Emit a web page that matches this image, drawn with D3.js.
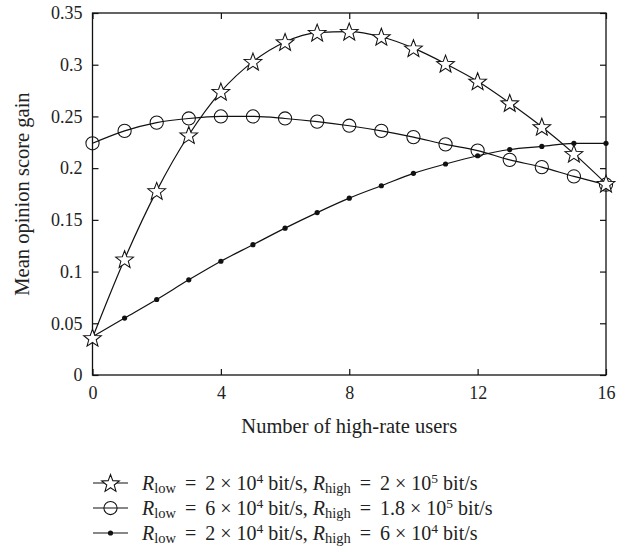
<!DOCTYPE html>
<html>
<head>
<meta charset="utf-8">
<script src="https://cdn.jsdelivr.net/npm/d3@7"></script>
<style>
  body { margin: 0; background: #fff; }
  svg { display: block; }
  text { font-family: "Liberation Serif", "Times New Roman", serif; fill: #222; }
</style>
</head>
<body>
<svg id="chart" width="632" height="552"></svg>
<script>
const users = [0,1,2,3,4,5,6,7,8,9,10,11,12,13,14,15,16];
const starSeries = [0.036,0.112,0.178,0.232,0.274,0.303,0.322,0.331,0.332,0.327,0.316,0.301,0.284,0.263,0.240,0.214,0.185];
const circleSeries = [0.224,0.236,0.244,0.248,0.250,0.250,0.248,0.245,0.241,0.236,0.230,0.223,0.217,0.208,0.201,0.192,0.184];
const dotSeries = [0.037,0.055,0.073,0.092,0.110,0.126,0.142,0.157,0.171,0.183,0.195,0.204,0.212,0.218,0.221,0.224,0.224];
const xTicks = [0,4,8,12,16];
const yTicks = [0,0.05,0.1,0.15,0.2,0.25,0.3,0.35];
const yTickLabels = ["0","0.05","0.1","0.15","0.2","0.25","0.3","0.35"];
const legendItems = [
  {marker:"star", low:"2", lowExp:"4", high:"2", highExp:"5"},
  {marker:"circle", low:"6", lowExp:"4", high:"1.8", highExp:"5"},
  {marker:"dot", low:"2", lowExp:"4", high:"6", highExp:"4"}
];

const svg = d3.select("#chart");
const L = 92.5, R = 606, T = 13, B = 375;
const x = d3.scaleLinear().domain([0,16]).range([L,R]);
const y = d3.scaleLinear().domain([0,0.35]).range([B,T]);
const ink = "#111";
const tickFont = 18, titleFont = 20.5, legFont = 20;

// frame
svg.append("rect").attr("x",L).attr("y",T).attr("width",R-L).attr("height",B-T)
  .attr("fill","none").attr("stroke",ink).attr("stroke-width",1.3);

// axes with inward ticks
const xAxis = svg.append("g").attr("transform",`translate(0,${B})`)
  .call(d3.axisBottom(x).tickValues(xTicks).tickSizeInner(-6).tickSizeOuter(0).tickPadding(11).tickFormat(d3.format("d")));
const xTop = svg.append("g").attr("transform",`translate(0,${T})`)
  .call(d3.axisTop(x).tickValues(xTicks).tickSizeInner(-6).tickSizeOuter(0).tickFormat(""));
const yAxis = svg.append("g").attr("transform",`translate(${L},0)`)
  .call(d3.axisLeft(y).tickValues(yTicks).tickSizeInner(-6).tickSizeOuter(0).tickPadding(10).tickFormat((d,i)=>yTickLabels[i]));
const yRight = svg.append("g").attr("transform",`translate(${R},0)`)
  .call(d3.axisRight(y).tickValues(yTicks).tickSizeInner(-6).tickSizeOuter(0).tickFormat(""));
[xAxis,xTop,yAxis,yRight].forEach(g=>{
  g.select(".domain").remove();
  g.selectAll("line").attr("stroke",ink).attr("stroke-width",1.2);
  g.selectAll("text").attr("font-family","Liberation Serif, serif").attr("font-size",tickFont).attr("fill","#222");
});

// axis titles
svg.append("text").attr("x",(L+R)/2).attr("y",433).attr("text-anchor","middle")
  .attr("font-size",titleFont).text("Number of high-rate users");
svg.append("text").attr("transform",`translate(29,${(T+B)/2}) rotate(-90)`).attr("text-anchor","middle")
  .attr("font-size",titleFont).text("Mean opinion score gain");

// marker generators
const starPath = (r) => {
  const pts = [];
  for (let i=0;i<10;i++){
    const a = -Math.PI/2 + i*Math.PI/5;
    const rr = i%2===0 ? r : r*0.42;
    pts.push([rr*Math.cos(a), rr*Math.sin(a)]);
  }
  return "M" + pts.map(p=>p[0].toFixed(2)+","+p[1].toFixed(2)).join("L") + "Z";
};
function drawMarker(g, type, cx, cy){
  if (type==="star"){
    g.append("path").attr("d",starPath(9.3)).attr("transform",`translate(${cx},${cy+0.8})`)
      .attr("fill","#fff").attr("stroke",ink).attr("stroke-width",1.05);
  } else if (type==="circle"){
    g.append("circle").attr("cx",cx).attr("cy",cy).attr("r",6.6)
      .attr("fill","none").attr("stroke",ink).attr("stroke-width",1.05);
  } else {
    g.append("circle").attr("cx",cx).attr("cy",cy).attr("r",2.6).attr("fill",ink);
  }
}

const line = d3.line().x((d,i)=>x(users[i])).y(d=>y(d)).curve(d3.curveMonotoneX);
const seriesList = [
  {vals: dotSeries, marker:"dot"},
  {vals: circleSeries, marker:"circle"},
  {vals: starSeries, marker:"star"}
];
seriesList.forEach(s=>{
  svg.append("path").datum(s.vals).attr("d",line).attr("fill","none").attr("stroke",ink).attr("stroke-width",1.2);
});
seriesList.forEach(s=>{
  const g = svg.append("g");
  s.vals.forEach((v,i)=>drawMarker(g, s.marker, x(users[i]), y(v)));
});

// legend
const legY0 = 483, legDY = 25;
const sp = "\u2009";
legendItems.forEach((it,i)=>{
  const yy = legY0 + i*legDY;
  svg.append("line").attr("x1",93).attr("x2",128).attr("y1",yy).attr("y2",yy).attr("stroke",ink).attr("stroke-width",1.2);
  const g = svg.append("g");
  drawMarker(g, it.marker, 110.5, yy);
  const t = svg.append("text").attr("x",142).attr("y",yy+6.5).attr("font-size",legFont);
  t.append("tspan").attr("font-style","italic").text("R");
  t.append("tspan").attr("font-size",14.5).attr("dy",3.5).text("low");
  t.append("tspan").attr("dy",-3.5).text(` ${sp}=${sp} ${it.low} × 10`);
  t.append("tspan").attr("font-size",13.5).attr("dy",-7).text(it.lowExp);
  t.append("tspan").attr("dy",7).text(" bit/s, ");
  t.append("tspan").attr("font-style","italic").text("R");
  t.append("tspan").attr("font-size",14.5).attr("dy",3.5).text("high");
  t.append("tspan").attr("dy",-3.5).text(` ${sp}=${sp} ${it.high} × 10`);
  t.append("tspan").attr("font-size",13.5).attr("dy",-7).text(it.highExp);
  t.append("tspan").attr("dy",7).text(" bit/s");
});
</script>
</body>
</html>
